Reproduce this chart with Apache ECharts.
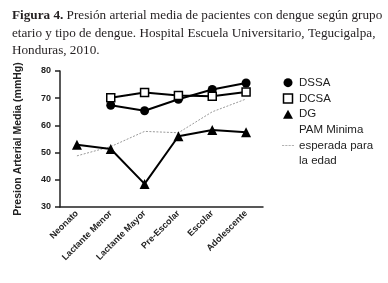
<!DOCTYPE html>
<html>
<head>
<meta charset="utf-8">
<script src="https://cdn.jsdelivr.net/npm/echarts@6/dist/echarts.min.js"></script>
<style>
  html, body { margin: 0; padding: 0; background: #fff; }
  #charts { width: 388px; height: 283px; }
</style>
</head>
<body>
<div id="charts"></div>
<script>
// grupos etarios
var categories = ['Neonato', 'Lactante Menor', 'Lactante Mayor', 'Pre-Escolar', 'Escolar', 'Adolescente'];

// presion arterial media (mmHg)
var dssa = [null, 67.4, 65.4, 69.6, 73.2, 75.6];
var dcsa = [null, 70.2, 72.1, 71.0, 70.7, 72.3];
var dg = [52.9, 51.3, 38.5, 56.0, 58.3, 57.5];
var pamMin = [48.8, 52.2, 57.8, 57.3, 65.0, 69.7];

var yTicks = [30, 40, 50, 60, 70, 80];

var myChart = echarts.init(document.getElementById('charts'));

var labelFont = { fontFamily: 'Liberation Sans', fontWeight: 'bold', color: '#222' };

option = {
    animation: false,
    title: {
        left: 7,
        top: 2,
        text: '{b|Figura 4.} Presión arterial media de pacientes con dengue según grupo\netario y tipo de dengue. Hospital Escuela Universitario, Tegucigalpa,\nHonduras, 2010.',
        textStyle: {
            fontFamily: 'Liberation Serif',
            fontSize: 13.2,
            fontWeight: 'normal',
            color: '#231f20',
            lineHeight: 17.5,
            rich: {
                b: { fontFamily: 'Liberation Serif', fontSize: 13.2, fontWeight: 'bold', color: '#231f20', lineHeight: 17.5 }
            }
        }
    },
    legend: {
        orient: 'vertical',
        left: 277,
        top: 70,
        itemWidth: 12,
        itemHeight: 9,
        itemGap: 0.5,
        symbolKeepAspect: true,
        textStyle: { fontFamily: 'Liberation Sans', fontSize: 11.5, color: '#222', lineHeight: 15.3 },
        data: [
            { name: 'DSSA', icon: 'circle', itemStyle: { color: '#000' } },
            {
                name: 'DCSA',
                icon: 'path://M0,0h10v10h-10z',
                itemStyle: { color: '#fff', borderColor: '#000', borderWidth: 1.5 }
            },
            { name: 'DG', icon: 'path://M5,0L10,9L0,9z', itemStyle: { color: '#000' } },
            {
                name: 'PAM Minima\nesperada para\nla edad',
                icon: 'path://M0,0h3v1h-3zM4.5,0h3v1h-3zM9,0h3v1h-3zM13.5,0h3v1h-3z',
                itemStyle: { color: '#999' }
            }
        ]
    },
    grid: { left: 60, right: 125, top: 71, bottom: 76 },
    xAxis: {
        type: 'category',
        data: categories,
        boundaryGap: true,
        axisLine: { lineStyle: { color: '#222', width: 1.5 } },
        axisTick: { alignWithLabel: true, length: 4, lineStyle: { color: '#222', width: 1.5 } },
        axisLabel: Object.assign({ rotate: 45, fontSize: 9, margin: 5, interval: 0 }, labelFont)
    },
    yAxis: {
        type: 'value',
        min: yTicks[0],
        max: yTicks[yTicks.length - 1],
        interval: 10,
        name: 'Presion Arterial Media (mmHg)',
        nameLocation: 'middle',
        nameGap: 36,
        nameTextStyle: Object.assign({ fontSize: 10.5 }, labelFont),
        axisLine: { show: true, lineStyle: { color: '#222', width: 1.5 } },
        axisTick: { show: true, length: 5, lineStyle: { color: '#222', width: 1.5 } },
        axisLabel: Object.assign({ fontSize: 9, margin: 9 }, labelFont),
        splitLine: { show: false }
    },
    series: [
        {
            name: 'DSSA', type: 'line', data: dssa,
            symbol: 'circle', symbolSize: 9,
            itemStyle: { color: '#000' },
            lineStyle: { color: '#000', width: 2 }
        },
        {
            name: 'DCSA', type: 'line', data: dcsa,
            symbol: 'rect', symbolSize: 8,
            itemStyle: { color: '#fff', borderColor: '#000', borderWidth: 1.5 },
            lineStyle: { color: '#000', width: 2 }
        },
        {
            name: 'DG', type: 'line', data: dg,
            symbol: 'triangle', symbolSize: 10,
            itemStyle: { color: '#000' },
            lineStyle: { color: '#000', width: 2 }
        },
        {
            name: 'PAM Minima\nesperada para\nla edad', type: 'line', data: pamMin,
            symbol: 'none',
            itemStyle: { color: '#999' },
            lineStyle: { color: '#999', width: 1, type: [2, 1.5] },
            z: 1
        }
    ]
};
myChart.setOption(option);
</script>
</body>
</html>
